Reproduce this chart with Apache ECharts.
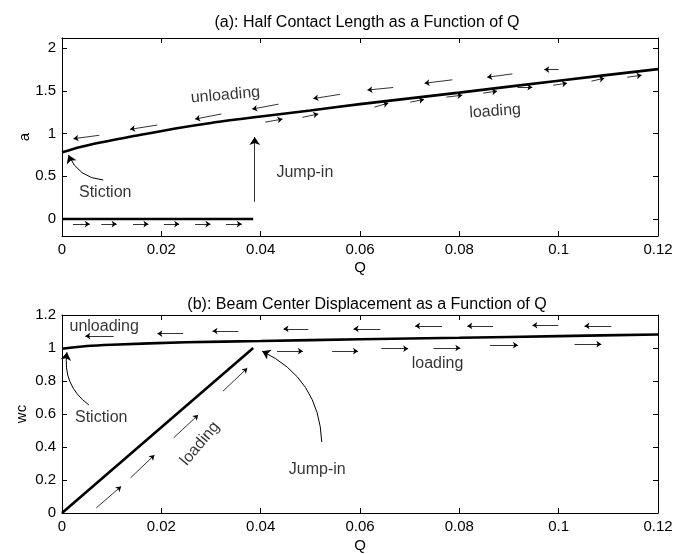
<!DOCTYPE html>
<html>
<head>
<meta charset="utf-8">
<script src="https://cdn.jsdelivr.net/npm/echarts@6/dist/echarts.min.js"></script>
<style>
  html, body { margin: 0; padding: 0; background: #fff; }
  #main { width: 675px; height: 554px; }
</style>
</head>
<body>
<div id="main"></div>
<script>
// ---- data (a): half contact length ----
var aUnload = [[0, 0.78], [0.0035, 0.84], [0.0067, 0.885], [0.0148, 0.974], [0.0228, 1.06],
    [0.03, 1.125], [0.04, 1.20], [0.05, 1.27], [0.06, 1.345], [0.08, 1.48], [0.1, 1.62], [0.12, 1.755]];
var aZero = [[0, 0], [0.0385, 0]];
var aJump = [[0.0388, 0.2, 0.0388, 0.96]];
// small arrows: [q0, v0, q1, v1], head at (q1, v1)
var aArrowsLeft = [[0.0075, 0.98, 0.0023, 0.94], [0.0192, 1.10, 0.0137, 1.05], [0.0321, 1.23, 0.0268, 1.17],
    [0.0436, 1.345, 0.0383, 1.287], [0.056, 1.46, 0.0506, 1.41], [0.0667, 1.54, 0.0615, 1.51],
    [0.0786, 1.63, 0.073, 1.59], [0.0907, 1.70, 0.0856, 1.66], [0.1, 1.75, 0.0971, 1.75]];
var aArrowsRight = [[0.0409, 1.134, 0.0444, 1.17], [0.0484, 1.19, 0.0516, 1.23], [0.0629, 1.31, 0.0657, 1.357],
    [0.0701, 1.368, 0.0729, 1.40], [0.0774, 1.427, 0.0806, 1.45], [0.0848, 1.474, 0.0876, 1.497],
    [0.0917, 1.544, 0.0947, 1.544], [0.0989, 1.567, 0.1017, 1.59], [0.1066, 1.614, 0.1092, 1.649],
    [0.1138, 1.66, 0.1167, 1.684],
    [0.0022, -0.06, 0.0056, -0.06], [0.0079, -0.06, 0.011, -0.06], [0.0143, -0.06, 0.0174, -0.06],
    [0.0205, -0.06, 0.0236, -0.06], [0.0268, -0.06, 0.0299, -0.06], [0.033, -0.06, 0.0362, -0.06]];
var aStictionArrow = [0.0083, 0.456, 0.0013, 0.75];
var aTexts = [
    {name: 'unloading', value: [0.0329, 1.45], rot: 5},
    {name: 'loading', value: [0.0872, 1.26], rot: 4},
    {name: 'Jump-in', value: [0.0489, 0.54], rot: 0},
    {name: 'Stiction', value: [0.0087, 0.31], rot: 0}
];

// ---- data (b): beam center displacement ----
var wUnload = [[0, 0.995], [0.005, 1.012], [0.01, 1.02], [0.025, 1.035], [0.04, 1.042],
    [0.06, 1.053], [0.08, 1.062], [0.1, 1.072], [0.12, 1.082]];
var wLoad = [[0, 0], [0.0385, 1.0]];
var wArrowsLeft = [[0.0104, 1.072, 0.0047, 1.072], [0.0244, 1.087, 0.0192, 1.087], [0.0355, 1.103, 0.0303, 1.103],
    [0.0496, 1.116, 0.0446, 1.116], [0.0641, 1.116, 0.0587, 1.116], [0.0765, 1.134, 0.0711, 1.134],
    [0.0868, 1.134, 0.0816, 1.134], [0.0999, 1.138, 0.0947, 1.138], [0.1106, 1.134, 0.1052, 1.134]];
var wArrowsRight = [[0.0433, 0.981, 0.0485, 0.981], [0.0544, 0.981, 0.0596, 0.981], [0.0643, 0.996, 0.0697, 0.996],
    [0.0748, 1.0, 0.0802, 1.0], [0.0862, 1.017, 0.0918, 1.017], [0.1032, 1.023, 0.1086, 1.023],
    [0.0069, 0.031, 0.0119, 0.161], [0.0138, 0.213, 0.0186, 0.351], [0.0225, 0.456, 0.0274, 0.594],
    [0.0324, 0.738, 0.0373, 0.878]];
var wStictionArrow = [0.0054, 0.655, 0.001, 0.974];
var wJumpArrow = [0.0523, 0.43, 0.0403, 0.981];
var wTexts = [
    {name: 'unloading', value: [0.0085, 1.13], rot: 0},
    {name: 'loading', value: [0.0756, 0.903], rot: 0},
    {name: 'Stiction', value: [0.0079, 0.58], rot: 0},
    {name: 'loading', value: [0.0278, 0.42], rot: 50},
    {name: 'Jump-in', value: [0.0514, 0.264], rot: 0}
];

var aTicks = [0, 0.5, 1, 1.5, 2];

var FONT = 'Liberation Sans, Arial, sans-serif';

function toSegs(list) {
    return list.map(function (s) { return {coords: [[s[0], s[1]], [s[2], s[3]]]}; });
}

function xAx(grid, pos, showLabel, name, gap) {
    return {
        type: 'value', gridIndex: grid, position: pos, min: 0, max: 0.12, interval: 0.02,
        name: name || '', nameLocation: 'middle', nameGap: gap || 24,
        nameTextStyle: {color: '#000', fontSize: 15, fontFamily: FONT},
        axisLine: {show: true, onZero: false, lineStyle: {color: '#000', width: 1}},
        axisTick: {inside: true, length: 5, lineStyle: {color: '#000'}},
        axisLabel: {show: showLabel, color: '#000', fontSize: 15, fontFamily: FONT, margin: 6},
        splitLine: {show: false}
    };
}

function yAx(grid, pos, showLabel, name, gap, opts) {
    var o = {
        type: 'value', gridIndex: grid, position: pos,
        name: name || '', nameLocation: 'middle', nameGap: gap, nameRotate: 90,
        nameMoveOverlap: false,
        nameTextStyle: {color: '#000', fontSize: 15, fontFamily: FONT},
        axisLine: {show: true, onZero: false, lineStyle: {color: '#000', width: 1}},
        axisTick: {inside: true, length: 5, lineStyle: {color: '#000'}},
        axisLabel: {show: showLabel, color: '#000', fontSize: 15, fontFamily: FONT, margin: 6},
        splitLine: {show: false}
    };
    for (var k in opts) {
        if (k === 'axisTick' || k === 'axisLabel') {
            for (var j in opts[k]) o[k][j] = opts[k][j];
        } else o[k] = opts[k];
    }
    return o;
}

var aYOpts = {min: -0.2, max: 2.12, axisTick: {customValues: aTicks}, axisLabel: {customValues: aTicks}};
var wYOpts = {min: 0, max: 1.2, interval: 0.2};

function arrows(xi, yi, data, size) {
    return {
        type: 'lines', coordinateSystem: 'cartesian2d', xAxisIndex: xi, yAxisIndex: yi,
        symbol: ['none', 'arrow'], symbolSize: size || 5, silent: true,
        lineStyle: {color: '#000', width: 0.8, opacity: 1},
        data: toSegs(data)
    };
}

function curvy(xi, yi, seg, curv) {
    return {
        type: 'lines', coordinateSystem: 'cartesian2d', xAxisIndex: xi, yAxisIndex: yi,
        symbol: ['none', 'arrow'], symbolSize: 8, silent: true,
        lineStyle: {color: '#000', width: 1, opacity: 1, curveness: curv},
        data: toSegs([seg])
    };
}

function texts(xi, yi, list) {
    return {
        type: 'scatter', xAxisIndex: xi, yAxisIndex: yi, symbolSize: 0, silent: true,
        data: list.map(function (t) {
            return {name: t.name, value: t.value, label: {rotate: t.rot}};
        }),
        label: {show: true, position: 'inside', formatter: '{b}', color: '#000',
            fontSize: 16, fontFamily: FONT, align: 'center', verticalAlign: 'middle'}
    };
}

function thick(xi, yi, data, smooth) {
    return {
        type: 'line', xAxisIndex: xi, yAxisIndex: yi, data: data, showSymbol: false,
        smooth: smooth || false, silent: true, lineStyle: {color: '#000', width: 2.6}
    };
}

var chart = echarts.init(document.getElementById('main'));
chart.setOption({
    backgroundColor: '#fff',
    animation: false,
    title: [
        {text: '(a): Half Contact Length as a Function of Q', left: 362, top: 10, textAlign: 'center',
            textStyle: {fontSize: 16, fontWeight: 'normal', color: '#000', fontFamily: FONT}},
        {text: '(b): Beam Center Displacement as a Function of Q', left: 362, top: 292, textAlign: 'center',
            textStyle: {fontSize: 16, fontWeight: 'normal', color: '#000', fontFamily: FONT}}
    ],
    grid: [
        {left: 62, right: 17, top: 38, height: 198, outerBoundsMode: 'none'},
        {left: 62, right: 17, top: 315, height: 198, outerBoundsMode: 'none'}
    ],
    xAxis: [
        xAx(0, 'bottom', true, 'Q', 24), xAx(0, 'top', false),
        xAx(1, 'bottom', true, 'Q', 25), xAx(1, 'top', false)
    ],
    yAxis: [
        yAx(0, 'left', true, 'a', 30, aYOpts), yAx(0, 'right', false, '', 30, aYOpts),
        yAx(1, 'left', true, 'wc', 33, wYOpts), yAx(1, 'right', false, '', 33, wYOpts)
    ],
    series: [
        thick(0, 0, aUnload, 0.3),
        thick(0, 0, aZero),
        arrows(0, 0, aJump, 8),
        arrows(0, 0, aArrowsLeft),
        arrows(0, 0, aArrowsRight),
        curvy(0, 0, aStictionArrow, 0.3),
        texts(0, 0, aTexts),
        thick(2, 2, wUnload, 0.3),
        thick(2, 2, wLoad),
        arrows(2, 2, wArrowsLeft),
        arrows(2, 2, wArrowsRight),
        curvy(2, 2, wStictionArrow, 0.3),
        curvy(2, 2, wJumpArrow, -0.3),
        texts(2, 2, wTexts)
    ]
});
</script>
</body>
</html>
